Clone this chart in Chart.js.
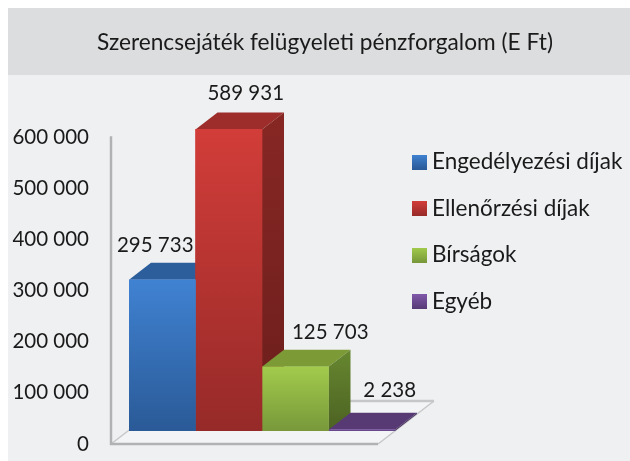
<!DOCTYPE html>
<html><head><meta charset="utf-8">
<style>html,body{margin:0;padding:0;background:#fff}canvas{display:block}</style>
<script src="https://cdn.jsdelivr.net/npm/chart.js@4"></script>
</head><body>
<canvas id="c" width="630" height="461"></canvas>
<script>
const categories = [''];
const seriesNames = ['Engedélyezési díjak', 'Ellenőrzési díjak', 'Bírságok', 'Egyéb'];
const seriesValues = [295733, 589931, 125703, 2238];
const axisMax = 600000;
const axisStep = 100000;
const chartTitle = 'Szerencsejáték felügyeleti pénzforgalom (E Ft)';

const gradTop = ['#4082d2', '#d23d39', '#a2cb4c', '#8058ab'];
const gradBottom = ['#2a5a97', '#962a28', '#78983a', '#573a74'];
const roofColor = ['#2c5e9b', '#9c2d2a', '#7c9a36', '#573a74'];
const sideTop = ['#24507f', '#872724', '#678730', '#47305f'];
const sideBottom = ['#1d4268', '#6b1e1c', '#4c6222', '#47305f'];
const labelShift = [[-7, -34], [17, -36], [35, -34], [28, -39]];
const FONT = 'Lato';
const DX = 22, DY = 17;
const fmt = v => String(v).replace(/\B(?=(\d{3})+$)/g, ' ');

function swatch(i) {
  const c = document.createElement('canvas'); c.width = 15; c.height = 15;
  const g = c.getContext('2d');
  const l = g.createLinearGradient(0, 0, 0, 15);
  l.addColorStop(0, gradTop[i]); l.addColorStop(1, gradBottom[i]);
  g.fillStyle = l; g.fillRect(0, 0, 15, 15);
  return c;
}

const scene = {
  id: 'scene',
  beforeDraw(chart) {
    const { ctx, width, height } = chart;
    ctx.save();
    ctx.fillStyle = '#ffffff'; ctx.fillRect(0, 0, width, height);
    ctx.fillStyle = '#eff0f2'; ctx.fillRect(8, 8, width - 8, height - 8);
    ctx.fillStyle = '#dcdddf'; ctx.fillRect(8, 8, width - 8, 67);
    ctx.restore();
    const t = chart.titleBlock; t.left = 0; t.right = 650;
    const L = chart.legend;
    L.left = 417.25 - 24; L.right = L.left + 230; L.top = 126.75; L.bottom = L.top + 300;
  },
  beforeDatasetsDraw(chart) {
    const { ctx, chartArea: a, scales: { y } } = chart;
    const y0 = y.getPixelForValue(0), yTop = y.getPixelForValue(axisMax);
    const fx = a.left - 18, fy = y0 + 13, fr = a.right - 17;
    const bx = 56, by = 43;
    ctx.save();
    ctx.fillStyle = '#f3f4f5';
    ctx.beginPath(); ctx.moveTo(fx, fy); ctx.lineTo(fr, fy); ctx.lineTo(fr + bx, fy - by); ctx.lineTo(fx + bx, fy - by); ctx.closePath(); ctx.fill();
    ctx.lineWidth = 1.5; ctx.strokeStyle = '#c6c7c9';
    ctx.beginPath(); ctx.moveTo(fx, fy); ctx.lineTo(fx + bx, fy - by); ctx.stroke();
    ctx.beginPath(); ctx.moveTo(fr, fy); ctx.lineTo(fr + bx, fy - by); ctx.stroke();
    ctx.lineWidth = 2.5;
    ctx.beginPath(); ctx.moveTo(fx + bx, fy - by); ctx.lineTo(fr + bx, fy - by); ctx.stroke();
    ctx.strokeStyle = '#b1b2b4';
    ctx.beginPath(); ctx.moveTo(fx, yTop + 12); ctx.lineTo(fx, fy); ctx.lineTo(fr, fy); ctx.stroke();

    seriesValues.forEach((v, i) => {
      const b = chart.getDatasetMeta(i).data[0];
      const l = b.x - b.width / 2, r = b.x + b.width / 2, t = b.y, bot = b.base;
      ctx.fillStyle = roofColor[i];
      ctx.beginPath(); ctx.moveTo(l, t); ctx.lineTo(l + DX, t - DY); ctx.lineTo(r + DX, t - DY); ctx.lineTo(r, t); ctx.closePath(); ctx.fill();
      const g = ctx.createLinearGradient(0, t - DY, 0, bot);
      g.addColorStop(0, sideTop[i]); g.addColorStop(1, sideBottom[i]);
      ctx.fillStyle = g;
      ctx.beginPath(); ctx.moveTo(r, t); ctx.lineTo(r + DX, t - DY); ctx.lineTo(r + DX, bot - DY); ctx.lineTo(r, bot); ctx.closePath(); ctx.fill();
    });
    ctx.restore();
  },
  afterDatasetsDraw(chart) {
    const { ctx } = chart;
    ctx.save();
    ctx.font = '20.5px ' + FONT; ctx.fillStyle = '#1a1a1a';
    ctx.textAlign = 'center'; ctx.textBaseline = 'middle';
    seriesValues.forEach((v, i) => {
      const b = chart.getDatasetMeta(i).data[0];
      ctx.fillText(fmt(v), b.x + labelShift[i][0], b.y + labelShift[i][1]);
    });
    ctx.restore();
  }
};

new Chart(document.getElementById('c'), {
  type: 'bar',
  data: {
    labels: categories,
    datasets: seriesNames.map((name, i) => ({
      label: name,
      data: [seriesValues[i]],
      barPercentage: 1,
      categoryPercentage: 1,
      borderWidth: 0,
      backgroundColor(ctx) {
        const c = ctx.chart, s = c.scales.y;
        if (!c.chartArea || !s || !ctx.parsed) return gradTop[i];
        const g = c.ctx.createLinearGradient(0, s.getPixelForValue(ctx.parsed.y), 0, s.getPixelForValue(0));
        g.addColorStop(0, gradTop[i]); g.addColorStop(1, gradBottom[i]);
        return g;
      }
    }))
  },
  options: {
    responsive: false,
    animation: false,
    layout: { padding: { left: 0, right: 235, top: 0, bottom: 30 } },
    scales: {
      x: { display: false, grid: { display: false } },
      y: {
        min: 0, max: axisMax,
        border: { display: false },
        grid: { display: false, drawTicks: false },
        afterFit(s) { s.width = 129; s.paddingTop = 0; s.paddingBottom = 0; },
        ticks: {
          stepSize: axisStep, padding: 40, labelOffset: 13,
          color: '#1a1a1a', font: { family: FONT, size: 20.5 },
          callback: v => fmt(v)
        }
      }
    },
    plugins: {
      tooltip: { enabled: false },
      title: {
        display: true, text: chartTitle, color: '#1a1a1a',
        font: { family: FONT, size: 22.7, weight: 'normal' },
        padding: { top: 29, bottom: 68 }
      },
      legend: {
        position: 'chartArea', align: 'start',
        labels: {
          color: '#1a1a1a', font: { family: FONT, size: 22.5 },
          padding: 24, usePointStyle: true, pointStyleWidth: 3.5,
          generateLabels: chart => seriesNames.map((n, i) => ({
            text: n, datasetIndex: i, pointStyle: swatch(i), hidden: false, lineWidth: 0, fontColor: '#1a1a1a'
          }))
        }
      }
    }
  },
  plugins: [scene]
});
</script>
</body></html>
